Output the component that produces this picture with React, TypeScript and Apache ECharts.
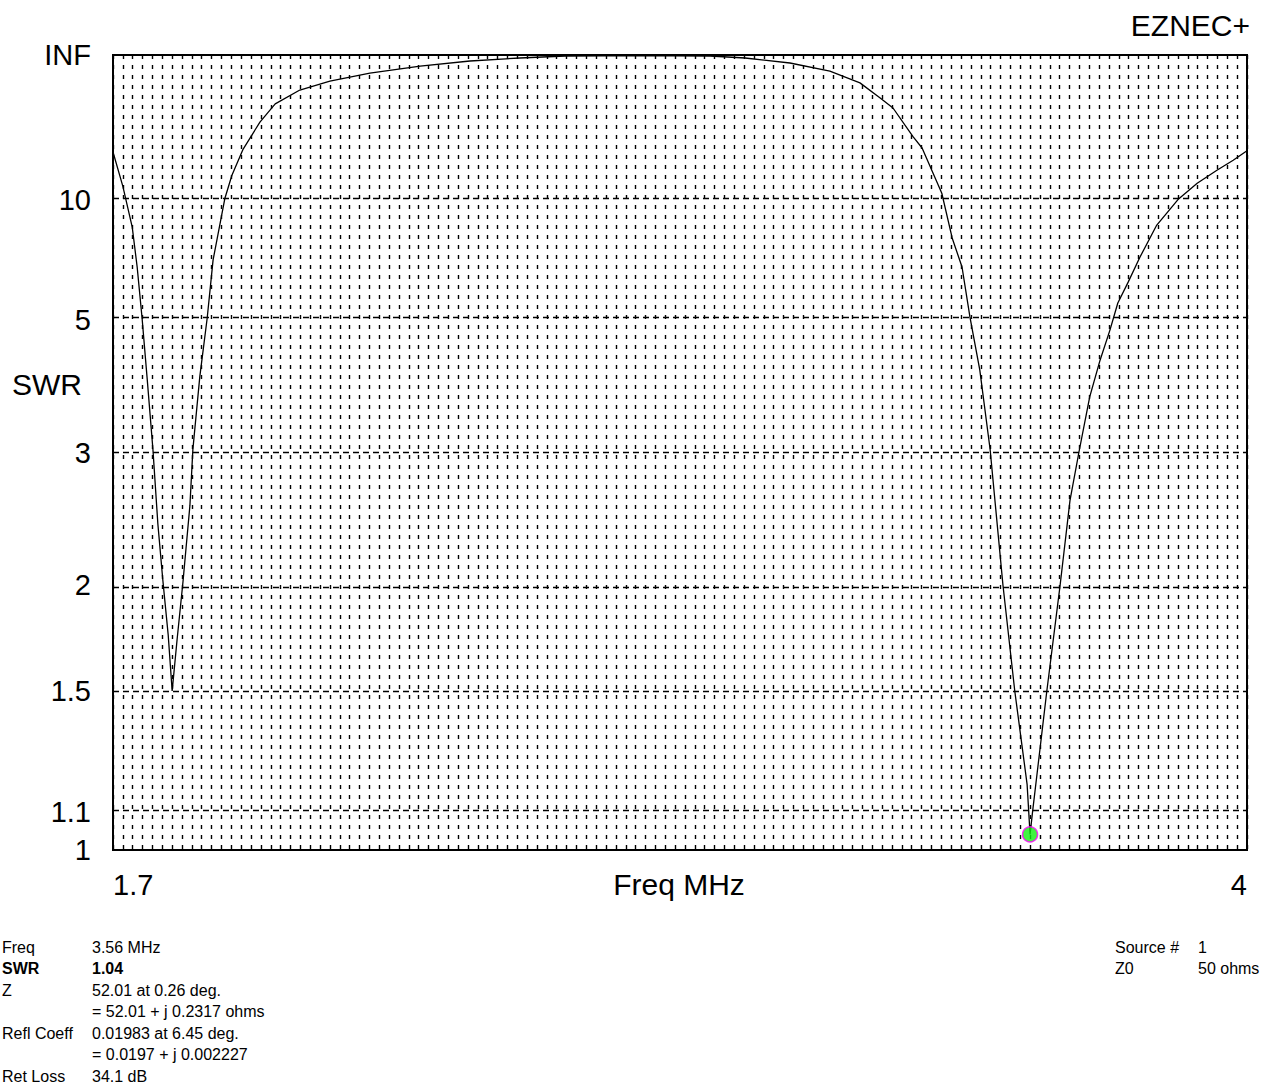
import React, { useEffect, useRef } from 'react';
import * as echarts from 'echarts';

// Frequency (MHz) and SWR readings along the sweep
const freqMHz = [
  1.700, 1.720, 1.739, 1.749, 1.759, 1.769, 1.781, 1.791, 1.801, 1.812,
  1.820, 1.830, 1.842, 1.856, 1.862, 1.876, 1.891, 1.903, 1.927, 1.941,
  1.964, 1.998, 2.029, 2.079, 2.140, 2.221, 2.323, 2.424, 2.525, 2.617,
  2.769, 2.911, 2.982, 3.073, 3.154, 3.215, 3.256, 3.282, 3.323, 3.341,
  3.381, 3.402, 3.422, 3.438, 3.458, 3.479, 3.505, 3.529, 3.554, 3.560,
  3.565, 3.594, 3.621, 3.641, 3.659, 3.681, 3.702, 3.722, 3.738, 3.759,
  3.783, 3.817, 3.860, 3.899, 3.939, 3.972, 4.000,
];
const swrValues = [
  15.4, 11.1, 8.24, 6.5, 5.04, 3.94, 3.03, 2.39, 2.03, 1.74,
  1.5, 1.72, 2.02, 2.53, 3.03, 3.94, 5.04, 6.76, 10.1, 12.2,
  15.9, 22.7, 31.5, 44.4, 60, 87, 143, 264, 529, 1589,
  2500, 1589, 529, 198, 98, 56, 36, 29, 18.4, 16.1,
  10.5, 7.69, 6.5, 5.07, 4.05, 3.03, 2.0, 1.5, 1.18, 1.04,
  1.1, 1.5, 2.0, 2.57, 3.0, 3.65, 4.21, 4.78, 5.41, 6.0,
  6.87, 8.35, 10.0, 11.4, 12.8, 14.1, 15.6,
];

const yTickSWR = [1, 1.1, 1.5, 2, 3, 5, 10, Infinity];
const yTickLabels = ['1', '1.1', '1.5', '2', '3', '5', '10', 'INF'];
const gridLineSWR = [1.1, 1.5, 2, 3, 5, 10];
const xTickValues = [1.7, 4];
const xTickLabels = ['1.7', '4'];

const markerFreq = 3.56;
const markerSWR = 1.04;

const infoLabels = ['Freq', 'SWR', 'Z', '', 'Refl Coeff', '', 'Ret Loss'];
const infoValues = [
  '3.56 MHz',
  '1.04',
  '52.01 at 0.26 deg.',
  '= 52.01 + j 0.2317 ohms',
  '0.01983 at 6.45 deg.',
  '= 0.0197 + j 0.002227',
  '34.1 dB',
];
const sourceLabels = ['Source #', 'Z0'];
const sourceValues = ['1', '50 ohms'];

const toGamma = (s: number) => (isFinite(s) ? (s - 1) / (s + 1) : 1);

const FONT = '"Liberation Sans", Arial, sans-serif';

export default function App() {
  const ref = useRef<HTMLDivElement>(null);

  useEffect(() => {
    if (!ref.current) return;
    const chart = echarts.init(ref.current, null, { renderer: 'svg' });

    const lineData = freqMHz.map((f, i) => [f, toGamma(swrValues[i])]);
    const yTickGammas = yTickSWR.map(toGamma);

    const graphics: any[] = [
      {
        type: 'text',
        left: 12,
        top: 369,
        style: { text: 'SWR', fontSize: 30, fontFamily: FONT, fill: '#000' },
      },
      {
        type: 'text',
        right: 14,
        top: 10,
        style: { text: 'EZNEC+', fontSize: 30, fontFamily: FONT, fill: '#000' },
      },
      {
        type: 'text',
        x: 679,
        y: 884,
        style: {
          text: 'Freq MHz',
          fontSize: 30,
          fontFamily: FONT,
          fill: '#000',
          align: 'center',
          verticalAlign: 'middle',
        },
      },
    ];
    infoLabels.forEach((t, i) => {
      if (t) {
        graphics.push({
          type: 'text',
          left: 2,
          top: 939 + i * 21.5,
          style: {
            text: t,
            fontSize: 16,
            fontFamily: FONT,
            fontWeight: t === 'SWR' ? 'bold' : 'normal',
            fill: '#000',
          },
        });
      }
      graphics.push({
        type: 'text',
        left: 92,
        top: 939 + i * 21.5,
        style: {
          text: infoValues[i],
          fontSize: 16,
          fontFamily: FONT,
          fontWeight: i === 1 ? 'bold' : 'normal',
          fill: '#000',
        },
      });
    });
    sourceLabels.forEach((t, i) => {
      graphics.push({
        type: 'text',
        left: 1115,
        top: 939 + i * 21.5,
        style: { text: t, fontSize: 16, fontFamily: FONT, fill: '#000' },
      });
      graphics.push({
        type: 'text',
        left: 1198,
        top: 939 + i * 21.5,
        style: { text: sourceValues[i], fontSize: 16, fontFamily: FONT, fill: '#000' },
      });
    });

    chart.setOption({
      animation: false,
      backgroundColor: '#fff',
      grid: {
        left: 113,
        top: 55,
        width: 1134,
        height: 795,
        show: true,
        borderColor: '#000',
        borderWidth: 2,
        backgroundColor: 'transparent',
        containLabel: false,
      },
      xAxis: {
        type: 'value',
        min: 1.7,
        max: 4,
        interval: 0.02,
        axisLine: { show: false },
        axisTick: { show: false },
        axisLabel: {
          customValues: xTickValues,
          formatter: (v: number) => {
            const idx = xTickValues.findIndex((x) => Math.abs(x - v) < 1e-6);
            return idx >= 0 ? xTickLabels[idx] : '';
          },
          alignMinLabel: 'left',
          alignMaxLabel: 'right',
          margin: 20,
          fontSize: 29,
          fontFamily: FONT,
          color: '#000',
          verticalAlign: 'top',
        },
        splitLine: {
          show: true,
          lineStyle: { color: '#000', width: 1.4, type: [4, 6] },
        },
      },
      yAxis: {
        type: 'value',
        min: 0,
        max: 1,
        axisLine: { show: false },
        axisTick: { show: false },
        splitLine: { show: false },
        axisLabel: {
          customValues: yTickGammas,
          formatter: (v: number) => {
            let best = 0;
            let bd = Infinity;
            yTickGammas.forEach((g, i) => {
              const d = Math.abs(g - v);
              if (d < bd) {
                bd = d;
                best = i;
              }
            });
            return yTickLabels[best];
          },
          margin: 22,
          fontSize: 29,
          fontFamily: FONT,
          color: '#000',
        },
      },
      series: [
        {
          type: 'line',
          data: lineData,
          showSymbol: false,
          symbol: 'none',
          lineStyle: { color: '#000', width: 1.3 },
          z: 3,
          markLine: {
            silent: true,
            symbol: 'none',
            label: { show: false },
            lineStyle: { color: '#000', width: 1.3, type: [6, 4] },
            data: gridLineSWR.map((s) => ({ yAxis: toGamma(s) })),
            z: 1,
          },
        },
        {
          type: 'scatter',
          data: [[markerFreq, toGamma(markerSWR)]],
          symbol: 'circle',
          symbolSize: 15,
          itemStyle: { color: '#12f012', borderColor: '#ff00ff', borderWidth: 1.5 },
          z: 5,
        },
      ],
      graphic: graphics,
    });

    return () => chart.dispose();
  }, []);

  return (
    <div
      ref={ref}
      style={{ position: 'absolute', left: 0, top: 0, width: 1264, height: 1087 }}
    />
  );
}
